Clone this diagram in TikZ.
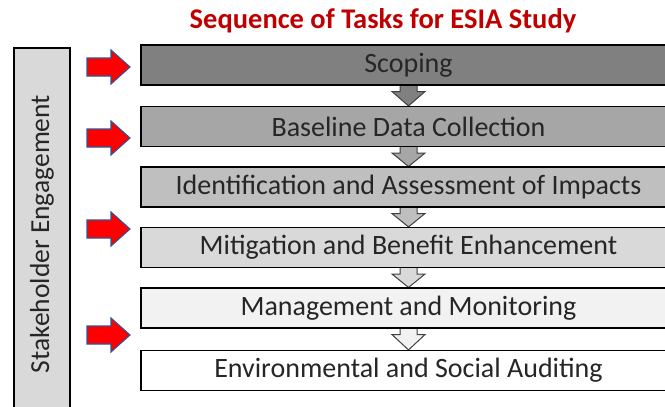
\documentclass[tikz,border=0pt]{standalone}
\usepackage{fontspec}
\setmainfont{Carlito}
\usetikzlibrary{calc,backgrounds}
\definecolor{titlered}{HTML}{C00000}
\definecolor{gA}{HTML}{808080}
\definecolor{gB}{HTML}{A6A6A6}
\definecolor{gC}{HTML}{BFBFBF}
\definecolor{gD}{HTML}{D9D9D9}
\definecolor{gE}{HTML}{F2F2F2}
\definecolor{txt}{HTML}{262626}
\definecolor{arrblue}{HTML}{2E5597}
\definecolor{arrline}{HTML}{404040}
\tikzset{
  taskbox/.style={draw=black, line width=1.1pt, minimum width=535pt, minimum height=40pt,
    inner sep=0pt, font=\fontsize{28}{32}\selectfont, text=txt},
  sidebox/.style={draw=black, line width=1.1pt, fill=gD, rotate=90, minimum width=372pt,
    minimum height=56pt, inner sep=0pt, font=\fontsize{27.5}{32}\selectfont, text=txt},
  titletext/.style={font=\bfseries\fontsize{28.5}{32}\selectfont, text=titlered},
  redarrow/.style={fill=red, draw=arrblue, line width=1.1pt, line join=miter},
  flowarrow/.style={draw=arrline, line width=1pt, line join=miter},
}
\newcommand\flowarr[3]{%
  \path[flowarrow, fill=#3]
    ($(#1.south)+(-8.5,-1)$) -- ($(#1.south)+(-8.5,6)$) -- ($(#1.south)+(-16.5,6)$)
    -- (#2.north) -- ($(#1.south)+(16.5,6)$) -- ($(#1.south)+(8.5,6)$)
    -- ($(#1.south)+(8.5,-1)$);}
\newcommand\redarr[1]{%
  \path[redarrow] (#1) -- ++(-19,-17) -- ++(0,8) -- ++(-24,0) -- ++(0,18)
    -- ++(24,0) -- ++(0,8) -- cycle;}
\begin{document}
\begin{tikzpicture}[x=1pt,y=-1pt]
\useasboundingbox (0,0) rectangle (665,407);
\clip (0,0) rectangle (665,407);
\node[titletext] (title) at (383,21) {Sequence of Tasks for ESIA Study};
\node[sidebox] (side) at (42,234) {Stakeholder Engagement};
\node[taskbox, fill=gA] (t1) at (408.5,65) {Scoping};
\node[taskbox, fill=gB] (t2) at (408.5,126.5) {Baseline Data Collection};
\node[taskbox, fill=gC] (t3) at (408.5,187) {Identification and Assessment of Impacts};
\node[taskbox, fill=gD] (t4) at (408.5,247.5) {Mitigation and Benefit Enhancement};
\node[taskbox, fill=gE] (t5) at (408.5,308) {Management and Monitoring};
\node[taskbox, fill=white] (t6) at (408.5,370.5) {Environmental and Social Auditing};
\begin{scope}[on background layer]
\flowarr{t1}{t2}{gA}
\flowarr{t2}{t3}{gB}
\flowarr{t3}{t4}{gC}
\flowarr{t4}{t5}{gD}
\flowarr{t5}{t6}{gE}
\end{scope}
\coordinate (r1) at (130,67);
\coordinate (r2) at (130,138);
\coordinate (r3) at (130,229);
\coordinate (r4) at (130,335);
\redarr{r1}
\redarr{r2}
\redarr{r3}
\redarr{r4}
\end{tikzpicture}
\end{document}
